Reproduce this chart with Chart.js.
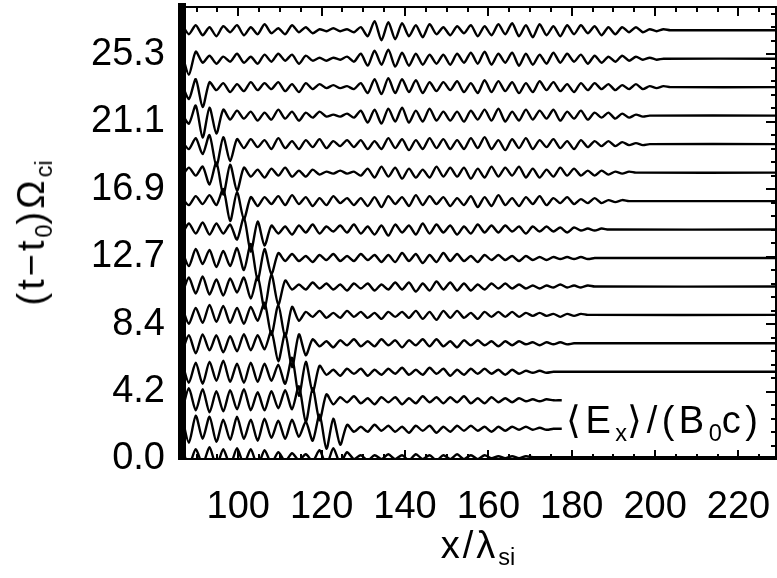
<!DOCTYPE html>
<html>
<head>
<meta charset="utf-8">
<script src="https://cdn.jsdelivr.net/npm/chart.js@4.4.1/dist/chart.umd.min.js"></script>
<style>
  html, body { margin: 0; padding: 0; background: #fff; }
  #wrap { position: relative; width: 777px; height: 578px; overflow: hidden; }
  canvas { display: block; }
  .lbl { position: absolute; font-family: 'Liberation Sans', Arial, sans-serif; font-size: 38px; line-height: 1; color: #000; white-space: nowrap; letter-spacing: 3px; }
  .lbl sub { font-size: 0.62em; vertical-align: -0.32em; letter-spacing: 0; }
  #ytitle { left: 34px; top: 233px; transform: translate(-50%, -50%) rotate(-90deg); }
  #xtitle { left: 478px; top: 548px; transform: translate(-50%, -50%); }
  #exlabel { left: 566px; top: 401px; letter-spacing: 4.5px; }
</style>
</head>
<body>
<div id="wrap">
  <canvas id="chart" width="777" height="578"></canvas>
  <div class="lbl" id="ytitle">(t&minus;t<sub>0</sub>)&Omega;<sub>ci</sub></div>
  <div class="lbl" id="xtitle">x/&lambda;<sub>si</sub></div>
  <div class="lbl" id="exlabel">&#10216;E<sub>x</sub>&#10217;/(B<sub>0</sub>c)</div>
</div>
<script>
// stack plot of <Ex>/(B0 c) snapshots, one trace per time, bottom trace first

const xStart = 86.5;   // first sample of every trace (x / lambda_si)
const xStep = 1.65;    // sample spacing
const xMin = 86.5;
const xMax = 229;
const yMax = 28.25;
const fieldGain = 0.0625; // field units -> time units on the stack

// time offset of each trace (bottom to top)
const traceTimes = [0.11, 1.89, 3.67, 5.45, 7.23, 9.01, 10.78, 12.56, 14.34, 16.12, 17.9, 19.68, 21.46, 23.24, 25.02, 26.8];
// where the flat (upstream) part of each trace stops
const tailEnd = [229, 177.6, 177.6, 229, 229, 229, 229, 229, 229, 229, 229, 229, 229, 229, 229, 229];

const wave0 = [9, -8, 8, -7, 10, -9, 8, -8, 9, -7, 8, -9, 7, -6, 5, -4, 4, -3, 3, -4, 7, -8, 9, -6, 5,
  -2, 2, -3, 2, -2, 3, -2, 2, -3, 3, -2, 2, -3, 2, -2, 3, -2, 2, -2, 2, -1,
  1, -1, 1, -1, 1, 0, 0, 0];
const wave1 = [12, -14, 13, -10, 12, -13, 9, -11, 12, -10, 9, -12, 10, -9, 8, -10, 9, -8, 7, -12, 14, -20, 10, -16,
  4, -3, 2, -3, 4, -2, 3, -3, 2, -4, 3, -2, 3, -4, 2, -3, 3,
  -2, 3, -2, 2, -3, 2, -2, 2, -1, 2,
  -1, 1, -1, 0, 0];
const wave2 = [-11, 12, -10, 11, -12, 9, -11, 10, -9, 11, -10, 8, -10, 9, -8, 10, -9, 14, -22, 12, -20, 6,
  -4, 3, -2, 4, -3, 2, -4, 3, -2, 3, -4, 2, -3, 4, -2, 3, -3,
  3, -2, 4, -3, 2, -3, 3, -2, 2, -2, 2, -1,
  1, -1, 1, 0, 0];
const wave3 = [10, -11, 9, -12, 10, -9, 11, -10, 8, -11, 9, -10, 8, -9, 7, -12, 14, -24, 10, -20, 6,
  -3, 2, -4, 3, -2, 3, -4, 2, -3, 3, -2, 4, -3, 2, -3, 4, -2,
  3, -4, 2, -3, 3, -2, 3, -2, 2, -3, 2, -2,
  1, -1, 1, -1, 0];
const wave4 = [-9, 8, -10, 9, -7, 8, -9, 7, -8, 9, -7, 8, -6, 12, -18, 10, -24, 9, -12,
  4, -3, 2, -4, 3, -2, 4, -3, 2, -3, 4, -2, 3, -4, 3, -2, 4,
  -3, 4, -3, 2, -4, 3, -2, 3, -2, 2, -3, 2, -2, 2, -1,
  1, -2, 1, -1, 1, -1, 0];
const wave5 = [8, -9, 7, -8, 10, -7, 9, -8, 7, -9, 8, -6, 12, -20, 10, -22, 8, -6,
  3, -2, 4, -3, 2, -3, 4, -2, 3, -3, 2, -4, 3, -2, 3, -3, 4,
  -4, 3, -5, 4, -3, 4, -3, 2, -4, 3, -2, 3, -2, 3, -2, 2,
  -1, 2, -1, 1, -2, 1, -1, 1, 0];
const wave6 = [-8, 9, -7, 10, -8, 7, -9, 8, -6, 9, -12, 10, -22, 12, -18, 6,
  -3, 2, -3, 4, -2, 3, -3, 2, -4, 3, -2, 3, -4, 2, -3, 4, -3,
  4, -5, 3, -4, 5, -3, 4, -4, 3, -4, 2, -3, 3, -2, 3, -2, 2, -2,
  1, -2, 1, -1, 2, -1, 1, -1, 1, 0];
const wave7 = [7, -8, 9, -6, 8, -9, 7, -8, 10, -12, 14, -22, 9, -16,
  5, -3, 4, -3, 2, -4, 3, -2, 4, -3, 2, -3, 4, -2, 3, -4, 3,
  -4, 5, -3, 4, -5, 3, -4, 5, -3, 4, -3, 2, -4, 3, -2, 3, -2, 2, -3, 2,
  -2, 1, -2, 1, -1, 1,
  -1, 1, -1, 0, 0];
const wave8 = [-5, 6, -4, 7, -5, 6, -4, 5, -10, 12, -22, 8, -16,
  4, -4, 3, -5, 4, -3, 5, -4, 3, -2, 4, -3, 5, -4, 3,
  -5, 4, -6, 5, -3, 4, -5, 6, -4, 5, -3, 4, -5, 3, -4, 5, -3, 4,
  -3, 4, -2, 3, -4, 3, -2, 3, -2, 2, -3, 2,
  -1, 1, -1, 1, 0];
const wave9 = [3, -4, 5, -3, 6, -4, 12, -20, 9, -18, 4,
  -5, 4, -3, 5, -4, 6, -3, 4, -5, 3, -4, 5, -2, 3, -4,
  3, -5, 4, -6, 5, -3, 4, -5, 6, -4, 5, -3, 4, -5, 3,
  -4, 5, -6, 4, -5, 6, -4, 3, -5, 4, -3, 5, -4, 3, -2, 4, -3, 2, -2, 3,
  -2, 1, -1, 1, 0];
const wave10 = [-4, 5, -3, 6, -12, 10, -22, 8, -18, 5,
  -4, 3, -5, 4, -3, 5, -4, 2, -4, 3, -2,
  1, -1, 2, -1, 1, -3,
  4, -5, 6, -4, 5, -6, 4, -5, 3, -5, 6, -4, 5, -4,
  5, -6, 4, -5, 6, -4, 5, -3, 6, -5, 4, -5, 3, -4, 5, -3, 4, -3, 2, -3, 2,
  -2, 1, -1, 1, 0];
const wave11 = [3, -5, 6, -10, 9, -22, 7, -17, 5,
  -4, 5, -3, 4, -5, 6, -4, 3, -5, 4, -3, 5, -4, 3, -2, 4, -3,
  4, -5, 3, -5, 6, -4, 5, -6, 4, -5, 6, -4, 5, -5, 4,
  -5, 6, -4, 7, -5, 4, -6, 5, -4, 6, -5, 4, -3, 5, -4, 3, -5, 4, -3, 3, -2, 3, -2,
  2, -1, 1, -1, 0];
const wave12 = [2, -8, 10, -22, 8, -18, 6,
  -4, 5, -3, 4, -5, 3, -4, 6, -3, 4, -5, 3, -2, 4,
  -1, 1, -1, 2, -2,
  5, -7, 6, -8, 7, -6, 8, -7, 5, -6, 7, -5, 4,
  -5, 4, -6, 5, -4, 6, -5, 7, -6, 4, -5, 6, -4, 5, -3, 6, -5, 4, -3, 5, -4, 3, -2, 3, -3,
  2, -2, 1, -1, 0];
const wave13 = [3, -12, 8, -20, 5,
  -3, 4, -5, 3, -4, 5, -3, 4, -2, 5, -4, 3, -5, 4, -2, 3,
  -1, 2, -1, 1, -2,
  4, -6, 8, -7, 9, -6, 8, -5, 7, -6, 5,
  -4, 5, -3, 6, -5, 4, -6, 7, -5, 6, -4, 5, -6, 4, -5, 6, -3, 5, -4, 3, -5, 4, -3, 4, -2, 3, -3, 2, -2, 3,
  -2, 1, -1, 1, 0];
const wave14 = [5, -16, 7,
  -4, 3, -5, 2, -3, 5, -4, 2, -5, 4, -3, 5, -2, 4, -5, 3, -2,
  1, -2, 1, -1, 2, -3,
  5, -7, 8, -6, 9, -8, 6, -7, 5, -6, 4,
  -5, 4, -6, 5, -4, 6, -5, 7, -6, 5, -4, 6, -7, 5, -6, 4, -5, 6, -4, 5, -3, 4, -5, 3, -4, 2, -3, 3, -2,
  2, -1, 1, -1, 0];
const wave15 = [6, -4, 5,
  -5, 3, -6, 4, -2, 5, -5, 3, -4, 6, -3, 2, -4, 5, -2, 3, -3,
  1, -1, 2, -1, 1, -2, 3,
  -6, 9, -10, 8, -9, 7, -6, 5, -7, 6,
  -4, 3, -5, 4, -3, 5, -6, 4, -5, 6, -4, 7, -6, 5, -7, 6, -5, 4, -6, 5, -4, 5, -3, 4, -5, 3, -4, 3, -2, 3,
  -2, 1, -1, 1, 0];

const waves = [wave0, wave1, wave2, wave3, wave4, wave5, wave6, wave7,
  wave8, wave9, wave10, wave11, wave12, wave13, wave14, wave15];

// axis ticks
const xMajorTicks = [100, 120, 140, 160, 180, 200, 220];
const xTickLabels = ['100', '120', '140', '160', '180', '200', '220'];
const yTickValues = [0, 4.2167, 8.4333, 12.65, 16.8667, 21.0833, 25.3];
const yTickLabels = ['0.0', '4.2', '8.4', '12.7', '16.9', '21.1', '25.3'];

const xMinorTicks = [];
for (let v = 90; v <= 225; v += 5) xMinorTicks.push(v);
const yMinorTicks = [];
for (let v = 0; v <= yMax; v += 4.21667 / 5) yMinorTicks.push(v);

const FONT = "'Liberation Sans', Arial, sans-serif";

function traceData(i) {
  const t = traceTimes[i];
  const pts = waves[i].map((v, k) => ({ x: xStart + k * xStep, y: t + v * fieldGain }));
  const last = pts[pts.length - 1].x;
  if (tailEnd[i] > last) pts.push({ x: tailEnd[i], y: t });
  return pts;
}

function fixTicks(list) {
  return (s) => { s.ticks = list.map((v) => ({ value: v })); };
}

// keep label overhang from shrinking the plot box
function noPad(s) {
  s.paddingLeft = 0;
  s.paddingRight = 0;
  s.paddingTop = 0;
  s.paddingBottom = 0;
}

// tick-only axis (inward marks, no labels)
function tickAxis(position, list, len, min, max, extra) {
  return Object.assign({
    type: 'linear',
    position: position,
    min: min,
    max: max,
    afterBuildTicks: fixTicks(list),
    afterFit: (s) => {
      if (position === 'top' || position === 'bottom') s.height = 0;
      else s.width = 0;
      noPad(s);
    },
    grid: { drawOnChartArea: false, drawTicks: true, tickLength: -len, color: '#000', lineWidth: 2 },
    border: { display: false },
    ticks: { display: false, autoSkip: false },
  }, extra || {});
}

const datasets = waves.map((w, i) => ({
  label: 't' + i,
  data: traceData(i),
  borderColor: '#000',
  borderWidth: 2.4,
  pointRadius: 0,
  tension: 0.25,
  fill: false,
}));

new Chart(document.getElementById('chart'), {
  type: 'line',
  data: { datasets: datasets },
  options: {
    responsive: false,
    animation: false,
    devicePixelRatio: 1,
    layout: { padding: { top: 7, right: 1, bottom: 0, left: 0 } },
    plugins: { legend: { display: false }, tooltip: { enabled: false } },
    scales: {
      x: {
        type: 'linear',
        position: 'bottom',
        weight: 1,
        min: xMin,
        max: xMax,
        afterBuildTicks: fixTicks(xMajorTicks),
        afterFit: (s) => { s.height = 119; noPad(s); },
        grid: { drawOnChartArea: false, drawTicks: true, tickLength: -9, color: '#000', lineWidth: 2 },
        border: { display: true, color: '#000', width: 2 },
        ticks: {
          autoSkip: false,
          maxRotation: 0,
          padding: 35,
          color: '#000',
          font: { family: FONT, size: 38 },
          callback: (v, i) => xTickLabels[i],
        },
      },
      xMinor: tickAxis('bottom', xMinorTicks, 5, xMin, xMax, { weight: 0 }),
      xTop: tickAxis('top', xMajorTicks, 9, xMin, xMax, { border: { display: true, color: '#000', width: 2 } }),
      xTopMinor: tickAxis('top', xMinorTicks, 5, xMin, xMax),
      y: {
        type: 'linear',
        position: 'left',
        min: 0,
        max: yMax,
        afterBuildTicks: fixTicks(yTickValues),
        afterFit: (s) => { s.width = 182; noPad(s); },
        grid: { drawOnChartArea: false, drawTicks: false },
        border: { display: true, color: '#000', width: 8 },
        ticks: {
          autoSkip: false,
          padding: 17,
          color: '#000',
          font: { family: FONT, size: 38 },
          callback: (v, i) => yTickLabels[i],
        },
      },
      yRight: tickAxis('right', yTickValues, 10, 0, yMax, { border: { display: true, color: '#000', width: 2 } }),
      yRightMinor: tickAxis('right', yMinorTicks, 5, 0, yMax),
    },
  },
});
</script>
</body>
</html>
